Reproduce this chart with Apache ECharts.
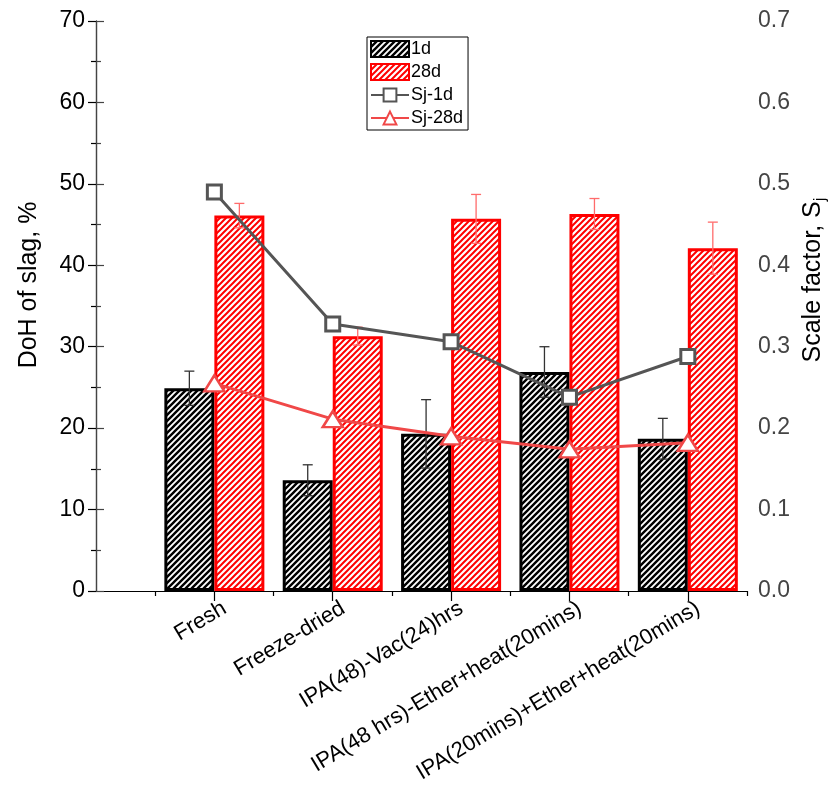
<!DOCTYPE html>
<html>
<head>
<meta charset="utf-8">
<script src="https://cdn.jsdelivr.net/npm/echarts@6/dist/echarts.min.js"></script>
<style>
  html, body { margin: 0; padding: 0; background: #fff; }
  #chart { width: 839px; height: 789px; }
</style>
</head>
<body>
<div id="chart"></div>
<script>
// Treatment groups (placed at x = 1..5 on the category scale)
const categories = ['Fresh', 'Freeze-dried', 'IPA(48)-Vac(24)hrs',
  'IPA(48 hrs)-Ether+heat(20mins)', 'IPA(20mins)+Ether+heat(20mins)'];

// Degree of hydration of slag, %
const doh1d = [24.9, 13.6, 19.3, 26.9, 18.7];
const doh1dErr = [2.1, 1.9, 4.2, 3.1, 2.5];
const doh28d = [46.1, 31.3, 45.7, 46.3, 42.1];
const doh28dErr = [1.5, 1.1, 3.0, 1.9, 3.2];

// Scale factor Sj
const sj1d = [0.490, 0.328, 0.306, 0.238, 0.288];
const sj28d = [0.255, 0.211, 0.190, 0.174, 0.182];

// Axis ticks
const leftTicks = [0, 10, 20, 30, 40, 50, 60, 70];
const rightTicks = [0.0, 0.1, 0.2, 0.3, 0.4, 0.5, 0.6, 0.7];

const FONT = "'Liberation Sans', Arial, sans-serif";
const BAR_W = 50;

// Diagonal hatch pattern used as bar fill
function hatch(color, lw) {
  const s = 6;
  const c = document.createElement('canvas');
  c.width = s; c.height = s;
  const ctx = c.getContext('2d');
  ctx.fillStyle = '#fff';
  ctx.fillRect(0, 0, s, s);
  ctx.strokeStyle = color;
  ctx.lineWidth = lw;
  ctx.beginPath();
  ctx.moveTo(-1, s + 1); ctx.lineTo(s + 1, -1);
  ctx.moveTo(-s / 2, s / 2); ctx.lineTo(s / 2, -s / 2);
  ctx.moveTo(s / 2, s * 1.5); ctx.lineTo(s * 1.5, s / 2);
  ctx.stroke();
  return { image: c, repeat: 'repeat' };
}

const pos = categories.map((_, i) => i + 1);
const pairs = (vals) => vals.map((v, i) => [pos[i], v]);
const errData = (vals, errs) => vals.map((v, i) => [pos[i], v, errs[i]]);

function errorSeries(name, vals, errs, dx, color) {
  return {
    type: 'custom',
    name: name,
    xAxisIndex: 0,
    yAxisIndex: 0,
    z: 3,
    silent: true,
    data: errData(vals, errs),
    encode: { x: 0, y: 1 },
    renderItem: function (params, api) {
      const x = api.value(0), v = api.value(1), e = api.value(2);
      const hi = api.coord([x, v + e]);
      const lo = api.coord([x, v - e]);
      const cx = hi[0] + dx;
      const cap = 5;
      const st = { stroke: color, lineWidth: 1.3 };
      return {
        type: 'group',
        children: [
          { type: 'line', shape: { x1: cx, y1: hi[1], x2: cx, y2: lo[1] }, style: st },
          { type: 'line', shape: { x1: cx - cap, y1: hi[1], x2: cx + cap, y2: hi[1] }, style: st },
          { type: 'line', shape: { x1: cx - cap, y1: lo[1], x2: cx + cap, y2: lo[1] }, style: st }
        ]
      };
    }
  };
}

const chart = echarts.init(document.getElementById('chart'), null, { renderer: 'canvas' });

chart.setOption({
  backgroundColor: '#fff',
  animation: false,
  textStyle: { fontFamily: FONT },
  grid: { left: 96, right: 92, top: 21, bottom: 198, containLabel: false },
  legend: {
    orient: 'vertical',
    left: 367, top: 37,
    data: [
      { name: '1d', icon: 'rect' },
      { name: '28d', icon: 'rect' },
      { name: 'Sj-1d' },
      { name: 'Sj-28d' }
    ],
    itemWidth: 38, itemHeight: 16, itemGap: 5,
    padding: [3, 5, 3, 3],
    borderColor: '#000', borderWidth: 1,
    textStyle: { fontFamily: FONT, fontSize: 18, color: '#000', padding: [0, 0, 0, -3] }
  },
  xAxis: [
    {
      type: 'value', min: 0, max: 5.5, interval: 1,
      position: 'bottom',
      splitLine: { show: false },
      axisLine: { show: true, onZero: false, lineStyle: { color: '#000', width: 1.2 } },
      axisTick: { show: true, customValues: pos, length: 10, lineStyle: { color: '#000', width: 1.2 } },
      axisLabel: {
        customValues: pos,
        rotate: 31, margin: 22,
        padding: [0, -12, 0, 0],
        fontFamily: FONT, fontSize: 22, color: '#000',
        formatter: (v) => categories[Math.round(v) - 1] || ''
      }
    },
    {
      type: 'value', min: 0, max: 5.5, interval: 0.5,
      position: 'bottom', offset: 0,
      splitLine: { show: false },
      axisLine: { show: false },
      axisTick: { show: true, customValues: [0.5, 1.5, 2.5, 3.5, 4.5, 5.5], length: 5, lineStyle: { color: '#000', width: 1.2 } },
      axisLabel: { show: false }
    }
  ],
  yAxis: [
    {
      type: 'value', min: 0, max: 70, interval: 10,
      position: 'left',
      name: 'DoH of slag, %', nameLocation: 'middle', nameGap: 54,
      nameTextStyle: { fontFamily: FONT, fontSize: 25, color: '#000', padding: [0, 0, 0, 42] },
      splitLine: { show: false },
      axisLine: { show: true, lineStyle: { color: '#000', width: 1.2 } },
      axisTick: { show: true, length: 8, lineStyle: { color: '#000', width: 1.2 } },
      minorTick: { show: true, splitNumber: 2, length: 5, lineStyle: { color: '#000', width: 1.2 } },
      axisLabel: {
        fontFamily: FONT, fontSize: 23, color: '#000', margin: 11,
        customValues: leftTicks
      }
    },
    {
      type: 'value', min: 0, max: 0.7, interval: 0.1,
      position: 'right',
      name: 'Scale factor, S{sub|j}', nameLocation: 'middle', nameGap: 44,
      nameTextStyle: {
        fontFamily: FONT, fontSize: 25, color: '#000', padding: [0, 0, 0, 52],
        rich: { sub: { fontFamily: FONT, fontSize: 17, color: '#000', verticalAlign: 'bottom', padding: [14, 0, 0, 0] } }
      },
      splitLine: { show: false },
      axisLine: { show: true, lineStyle: { color: '#444', width: 1.2 } },
      axisTick: { show: true, length: 8, lineStyle: { color: '#444', width: 1.2 } },
      minorTick: { show: true, splitNumber: 2, length: 5, lineStyle: { color: '#444', width: 1.2 } },
      axisLabel: {
        fontFamily: FONT, fontSize: 23, color: '#444', margin: 11,
        customValues: rightTicks,
        formatter: (v) => v.toFixed(1)
      }
    }
  ],
  series: [
    {
      name: '1d', type: 'bar', xAxisIndex: 0, yAxisIndex: 0,
      barWidth: BAR_W, barGap: '0%', z: 2,
      itemStyle: { color: hatch('#000', 2.4), borderColor: '#000', borderWidth: 3 },
      data: pairs(doh1d)
    },
    {
      name: '28d', type: 'bar', xAxisIndex: 0, yAxisIndex: 0,
      barWidth: BAR_W, barGap: '0%', z: 2,
      itemStyle: { color: hatch('#ff0000', 2.0), borderColor: '#ff0000', borderWidth: 3 },
      data: pairs(doh28d)
    },
    errorSeries('1d-err', doh1d, doh1dErr, -BAR_W / 2, '#333'),
    errorSeries('28d-err', doh28d, doh28dErr, BAR_W / 2, '#ff6b6b'),
    {
      name: 'Sj-1d', type: 'line', xAxisIndex: 0, yAxisIndex: 1, z: 4,
      data: pairs(sj1d),
      symbol: 'rect', symbolSize: 14,
      lineStyle: { color: '#555', width: 3 },
      itemStyle: { color: '#fff', borderColor: '#555', borderWidth: 3 }
    },
    {
      name: 'Sj-28d', type: 'line', xAxisIndex: 0, yAxisIndex: 1, z: 4,
      data: pairs(sj28d),
      symbol: 'triangle', symbolSize: [20, 16],
      lineStyle: { color: '#f04848', width: 3 },
      itemStyle: { color: '#fff', borderColor: '#f04848', borderWidth: 2.5 }
    }
  ]
});
</script>
</body>
</html>
